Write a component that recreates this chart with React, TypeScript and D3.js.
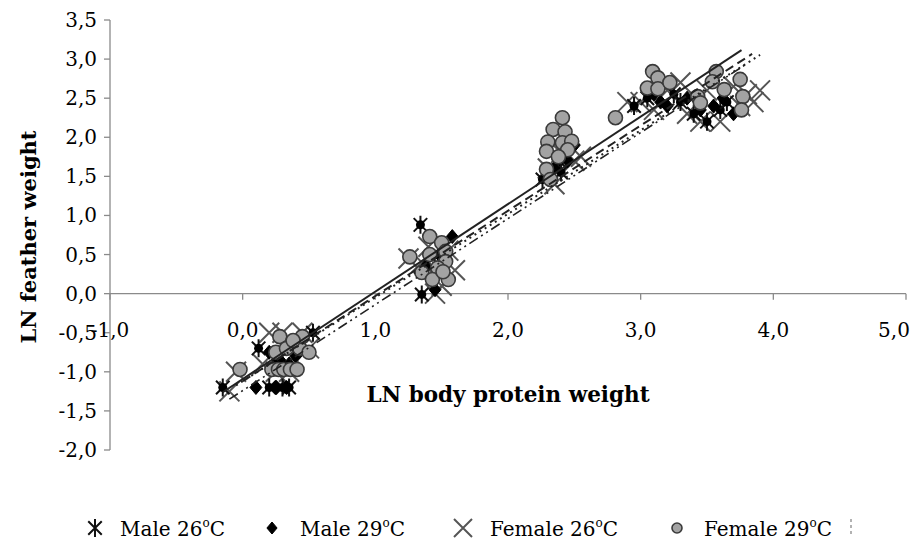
import React, { useEffect, useRef } from 'react';
import * as d3 from 'd3';

type Pt = [number, number];

// LN body protein weight, LN feather weight
const male26: Pt[] = [
  [-0.15, -1.2], [0.12, -0.7], [0.53, -0.5], [0.2, -1.2], [0.3, -1.2], [0.35, -1.2], [0.25, -0.85],
  [1.34, 0.88], [1.35, -0.01], [1.5, 0.45],
  [2.26, 1.46], [2.39, 1.69], [2.4, 1.55],
  [2.95, 2.4], [3.05, 2.5], [3.25, 2.55], [3.4, 2.3], [3.5, 2.2], [3.6, 2.35], [3.65, 2.45], [3.3, 2.45],
];
const male29: Pt[] = [
  [0.1, -1.2], [0.25, -1.2], [0.28, -0.85], [0.35, -0.9], [0.4, -0.8], [0.2, -0.75], [0.33, -1.2],
  [1.58, 0.73], [1.48, 0.5], [1.38, 0.35], [1.45, 0.05],
  [2.45, 1.7], [2.35, 1.6], [2.5, 1.9],
  [3.1, 2.55], [3.15, 2.45], [3.35, 2.5], [3.55, 2.4], [3.7, 2.3], [3.2, 2.4], [3.45, 2.35], [3.62, 2.5],
];
const female26: Pt[] = [
  [-0.05, -1.0], [0.2, -0.5], [0.3, -0.5], [0.45, -0.5], [0.25, -1.0], [0.35, -1.0], [0.5, -0.7], [-0.1, -1.25], [0.15, -0.9],
  [1.4, 0.6], [1.5, 0.1], [1.35, 0.4], [1.6, 0.3], [1.45, 0.0], [1.55, 0.55], [1.25, 0.45],
  [2.35, 1.4], [2.5, 1.7], [2.55, 1.75], [2.3, 1.6], [2.4, 1.8],
  [3.0, 2.45], [3.2, 2.6], [3.3, 2.7], [3.45, 2.2], [3.5, 2.6], [3.6, 2.2], [3.8, 2.55], [3.85, 2.45],
  [3.9, 2.6], [3.35, 2.3], [3.7, 2.65], [3.1, 2.35], [2.9, 2.45], [3.75, 2.4],
];
const female29: Pt[] = [
  [-0.02, -0.97], [0.28, -0.55], [0.25, -0.75], [0.33, -0.7], [0.43, -0.7], [0.45, -0.55], [0.5, -0.75],
  [0.22, -0.97], [0.27, -0.97], [0.31, -0.97], [0.36, -0.97], [0.41, -0.97], [0.38, -0.6],
  [1.26, 0.47], [1.41, 0.73], [1.5, 0.65], [1.53, 0.54], [1.53, 0.41], [1.47, 0.33], [1.35, 0.27],
  [1.43, 0.18], [1.55, 0.18], [1.51, 0.28], [1.41, 0.5],
  [2.41, 2.25], [2.34, 2.1], [2.43, 2.07], [2.3, 1.94], [2.41, 1.93], [2.48, 1.95], [2.29, 1.82],
  [2.45, 1.84], [2.29, 1.59], [2.32, 1.46], [2.38, 1.75],
  [2.81, 2.25], [3.09, 2.84], [3.13, 2.76], [3.05, 2.63], [3.13, 2.62], [3.22, 2.7], [3.43, 2.52],
  [3.45, 2.44], [3.57, 2.84], [3.54, 2.71], [3.63, 2.61], [3.75, 2.74], [3.77, 2.52], [3.76, 2.35],
];

// trendlines: [slope, intercept, xStart, xEnd]
const trendMale26 = [1.119, -1.093, -0.15, 3.76];
const trendMale29 = [1.09, -1.12, 0.0, 3.84];
const trendFemale26 = [1.07, -1.12, -0.05, 3.9];
const trendFemale29 = [1.1, -1.24, -0.1, 3.8];

const xTicks = [-1, 0, 1, 2, 3, 4, 5];
const yTicks = [-2, -1.5, -1, -0.5, 0, 0.5, 1, 1.5, 2, 2.5, 3, 3.5];
const legendLabels = ['Male 26', 'Male 29', 'Female 26', 'Female 29'];

const fmt = (v: number) => d3.format('.1f')(v).replace('.', ',').replace('−', '-');

const App: React.FC = () => {
  const svgRef = useRef<SVGSVGElement>(null);

  useEffect(() => {
    if (!svgRef.current) return;
    const svg = d3.select(svgRef.current);
    svg.selectAll('*').remove();

    const x = d3.scaleLinear().domain([-1, 5]).range([110, 906]);
    const y = d3.scaleLinear().domain([-2, 3.5]).range([450, 20]);
    const font = '"DejaVu Serif", serif';
    const axisCol = '#8a8a8a';

    svg.append('rect').attr('width', 917).attr('height', 556).attr('fill', '#fff');

    // axes
    svg.append('line').attr('x1', x(-1)).attr('x2', x(-1)).attr('y1', y(-2)).attr('y2', y(3.5))
      .attr('stroke', axisCol).attr('stroke-width', 1.3);
    svg.append('line').attr('x1', x(-1)).attr('x2', x(5)).attr('y1', y(0)).attr('y2', y(0))
      .attr('stroke', axisCol).attr('stroke-width', 1.3);

    yTicks.forEach(t => {
      svg.append('line').attr('x1', x(-1) - 6).attr('x2', x(-1)).attr('y1', y(t)).attr('y2', y(t))
        .attr('stroke', axisCol).attr('stroke-width', 1.3);
      svg.append('text').attr('x', 97).attr('y', y(t) + 7).attr('text-anchor', 'end')
        .style('font-family', font).attr('font-size', 20).attr('fill', '#000').text(fmt(t));
    });
    xTicks.forEach(t => {
      svg.append('line').attr('x1', x(t)).attr('x2', x(t)).attr('y1', y(0)).attr('y2', y(0) + 6)
        .attr('stroke', axisCol).attr('stroke-width', 1.3);
      // last label is pulled in so it stays inside the frame
      const px = Math.min(x(t), 894);
      svg.append('text').attr('x', px).attr('y', 337).attr('text-anchor', 'middle')
        .style('font-family', font).attr('font-size', 20).attr('fill', '#000').text(fmt(t));
    });

    svg.append('text').attr('x', 508).attr('y', 402).attr('text-anchor', 'middle')
      .style('font-family', font).attr('font-size', 21.5).attr('font-weight', 'bold').text('LN body protein weight');
    svg.append('text').attr('transform', `translate(36,237) rotate(-90)`).attr('text-anchor', 'middle')
      .style('font-family', font).attr('font-size', 21).attr('font-weight', 'bold').text('LN feather weight');

    // marker painters
    const asterisk = (g: any, cx: number, cy: number, s = 9, hub = true) => {
      const d = s * 0.75;
      const p = `M${cx},${cy - s}L${cx},${cy + s}M${cx - d},${cy - d}L${cx + d},${cy + d}M${cx - d},${cy + d}L${cx + d},${cy - d}`;
      g.append('path').attr('d', p).attr('stroke', '#111').attr('stroke-width', 2).attr('fill', 'none');
      if (hub) g.append('circle').attr('cx', cx).attr('cy', cy).attr('r', 4.5).attr('fill', '#000');
    };
    const diamond = (g: any, cx: number, cy: number, s = 7) => {
      g.append('path').attr('d', `M${cx},${cy - s}L${cx + s * 0.85},${cy}L${cx},${cy + s}L${cx - s * 0.85},${cy}Z`)
        .attr('fill', '#000').attr('stroke', '#000').attr('stroke-width', 1);
    };
    const cross = (g: any, cx: number, cy: number, s = 10) => {
      g.append('path').attr('d', `M${cx - s},${cy - s}L${cx + s},${cy + s}M${cx - s},${cy + s}L${cx + s},${cy - s}`)
        .attr('stroke', '#555').attr('stroke-width', 2).attr('fill', 'none');
    };
    const dot = (g: any, cx: number, cy: number, r = 7) => {
      g.append('circle').attr('cx', cx).attr('cy', cy).attr('r', r)
        .attr('fill', '#a3a3a3').attr('stroke', '#3a3a3a').attr('stroke-width', 1.6);
    };

    const gMarks = svg.append('g');
    female26.forEach(([a, b]) => cross(gMarks, x(a), y(b)));
    male26.forEach(([a, b]) => asterisk(gMarks, x(a), y(b)));
    male29.forEach(([a, b]) => diamond(gMarks, x(a), y(b)));
    female29.forEach(([a, b]) => dot(gMarks, x(a), y(b)));

    // trendlines
    const trends: [number[], string, number][] = [
      [trendMale26, 'none', 2],
      [trendMale29, '9,5', 2],
      [trendFemale26, '2,4', 2],
      [trendFemale29, '10,4,2,4,2,4', 1.6],
    ];
    const line = d3.line<number>().x(v => x(v[0])).y(v => y(v[1]));
    trends.forEach(([t, dash, w]) => {
      const [m, c, x0, x1] = t;
      svg.append('path')
        .attr('d', line([[x0, m * x0 + c], [x1, m * x1 + c]] as any))
        .attr('stroke', '#222').attr('stroke-width', w).attr('fill', 'none')
        .attr('stroke-dasharray', dash);
    });

    // legend
    const lg = svg.append('g');
    const ly = 528;
    const lx = [95, 272, 463, 677];
    const tx = [120, 300, 490, 704];
    asterisk(lg, lx[0], ly, 9, false);
    diamond(lg, lx[1], ly, 6);
    cross(lg, lx[2], ly, 9);
    dot(lg, lx[3], ly, 5);
    legendLabels.forEach((l, i) => {
      const t = lg.append('text').attr('x', tx[i]).attr('y', ly + 8)
        .style('font-family', font).attr('font-size', 20).attr('fill', '#000');
      t.append('tspan').text(l);
      t.append('tspan').attr('dy', -9).attr('font-size', 12).text('o');
      t.append('tspan').attr('dy', 9).text('C');
    });
    lg.append('line').attr('x1', 851).attr('x2', 851).attr('y1', ly - 9).attr('y2', ly + 9)
      .attr('stroke', '#999').attr('stroke-width', 1.5).attr('stroke-dasharray', '3,3');
  }, []);

  return (
    <svg ref={svgRef} width={917} height={556}
      style={{ position: 'absolute', left: 0, top: 0, display: 'block' }} />
  );
};

export default App;
